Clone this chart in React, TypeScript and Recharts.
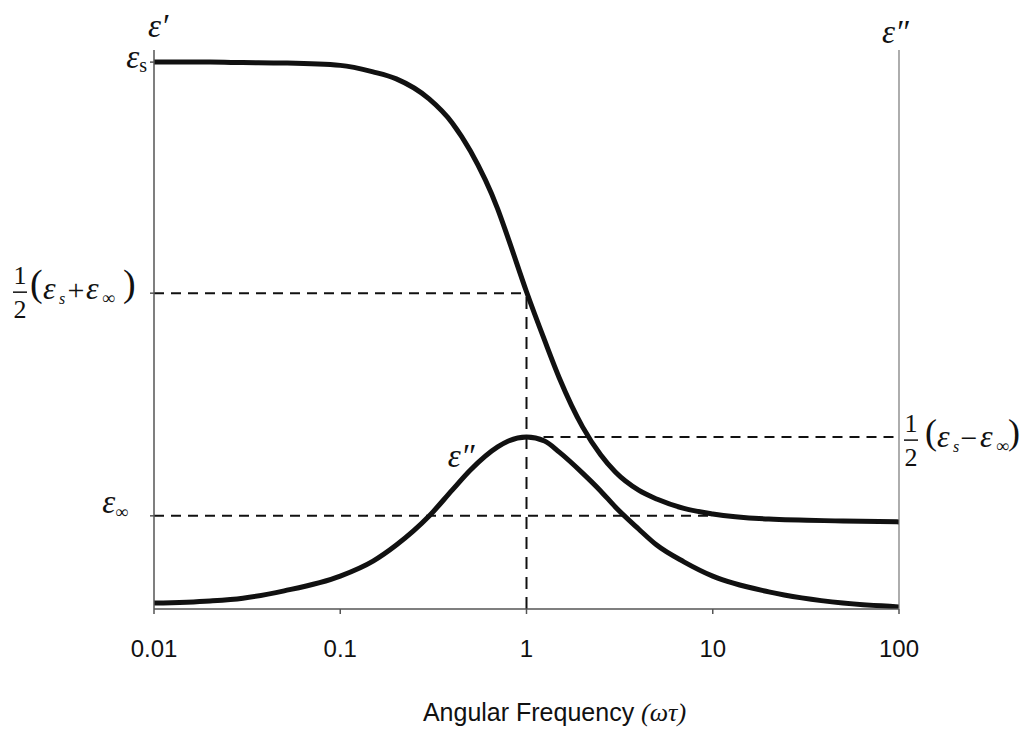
import React from 'react';
import { LineChart, Line, XAxis, YAxis, ReferenceLine } from 'recharts';

// angular frequency (ωτ) sample points
const omega = [0.01, 0.02, 0.03, 0.05, 0.1, 0.15, 0.2, 0.3, 0.4, 0.5, 0.7, 0.8, 1, 1.25, 1.5, 2, 2.5, 3, 4, 5, 7, 10, 20, 50, 100];
// ε' (left axis units)
const epsPrime = [11.74, 11.74, 11.73, 11.72, 11.67, 11.53, 11.38, 10.95, 10.43, 9.83, 8.59, 7.94, 6.81, 5.77, 4.96, 3.91, 3.31, 2.94, 2.55, 2.36, 2.16, 2.04, 1.93, 1.89, 1.87];
// ε'' (right axis units)
const epsDoublePrime = [0.17, 0.23, 0.31, 0.52, 0.94, 1.37, 1.83, 2.66, 3.41, 3.98, 4.64, 4.81, 4.92, 4.81, 4.49, 3.89, 3.38, 2.92, 2.29, 1.83, 1.35, 0.94, 0.49, 0.17, 0.06];

const xTicks = [0.01, 0.1, 1, 10, 100];
const xTickLabels = ['0.01', '0.1', '1', '10', '100'];

const EPS_S = 11.74;
const EPS_HALF = 6.78;
const EPS_INF = 2.0;
const PEAK = 4.92;
const PEAK_W = 1;

const data = omega.map((w, i) => ({ w, ep: epsPrime[i], epp: epsDoublePrime[i] }));

const SERIF = "'Liberation Serif', 'Times New Roman', serif";
const SANS = "'Liberation Sans', Arial, sans-serif";
const INK = '#111';

type Layout = { lp: number; e1: number; s: number; op: number; e2: number; inf: number; rp: number; pf: number };
const LEFT_LAYOUT: Layout = { lp: 10, e1: 23, s: 39, op: 56, e2: 66, inf: 82, rp: 103, pf: 38 };
const RIGHT_LAYOUT: Layout = { lp: 14, e1: 26, s: 42, op: 58, e2: 69, inf: 85, rp: 97, pf: 36 };

function HalfExpr({ fc, cy, op, L }: { fc: number; cy: number; op: string; L: Layout }) {
  return (
    <g fill={INK} fontFamily={SERIF}>
      <text x={fc} y={cy - 8} fontSize={26} textAnchor="middle">1</text>
      <line x1={fc - 7} x2={fc + 7} y1={cy} y2={cy} stroke={INK} strokeWidth={1.5} />
      <text x={fc} y={cy + 26} fontSize={26} textAnchor="middle">2</text>
      <text x={fc + L.lp} y={cy + 4} fontSize={L.pf}>(</text>
      <text x={fc + L.e1} y={cy + 7} fontSize={32} fontStyle="italic">ε</text>
      <text x={fc + L.s} y={cy + 12} fontSize={16} fontStyle="italic">s</text>
      <text x={fc + L.op} y={cy + 8} fontSize={30} textAnchor="middle">{op}</text>
      <text x={fc + L.e2} y={cy + 7} fontSize={32} fontStyle="italic">ε</text>
      <text x={fc + L.inf} y={cy + 12} fontSize={18}>∞</text>
      <text x={fc + L.rp} y={cy + 4} fontSize={L.pf}>)</text>
    </g>
  );
}

const LeftTick = (props: any) => {
  const { x, y, payload } = props;
  const ax = x + 4;
  const v = payload.value;
  if (Math.abs(v - EPS_S) < 1e-6) {
    return (
      <text x={ax - 7} y={y + 6} textAnchor="end" fill={INK} fontFamily={SERIF}>
        <tspan fontSize={33} fontStyle="italic">ε</tspan>
        <tspan fontSize={20} dy={4}>s</tspan>
      </text>
    );
  }
  if (Math.abs(v - EPS_HALF) < 1e-6) {
    return <HalfExpr fc={ax - 134} cy={y - 1} op="+" L={LEFT_LAYOUT} />;
  }
  if (Math.abs(v - EPS_INF) < 1e-6) {
    return (
      <text x={ax - 26} y={y - 3} textAnchor="end" fill={INK} fontFamily={SERIF}>
        <tspan fontSize={33} fontStyle="italic">ε</tspan>
        <tspan fontSize={18} dy={5}>∞</tspan>
      </text>
    );
  }
  return null;
};

const RightTick = (props: any) => {
  const { x, y } = props;
  return <HalfExpr fc={x + 12} cy={y + 3} op="−" L={RIGHT_LAYOUT} />;
};

const BottomTick = (props: any) => {
  const { x, y, payload } = props;
  const i = xTicks.indexOf(payload.value);
  return (
    <text x={x} y={y + 43} textAnchor="middle" fill={INK} fontFamily={SANS} fontSize={24}>
      {i >= 0 ? xTickLabels[i] : ''}
    </text>
  );
};

const XTitle = (props: any) => {
  const vb = props.viewBox || { x: 154, y: 609, width: 745 };
  const cx = vb.x + vb.width / 2 + 28;
  return (
    <text x={cx} y={vb.y + 112} textAnchor="middle" fill={INK} fontFamily={SANS} fontSize={25}>
      <tspan>Angular Frequency </tspan>
      <tspan fontFamily={SERIF} fontStyle="italic" fontSize={26}>(ωτ)</tspan>
    </text>
  );
};

const LeftTitle = (props: any) => {
  const vb = props.viewBox || { x: 0, y: 50, width: 154 };
  return (
    <text x={vb.x + vb.width - 6} y={vb.y - 13} fill={INK} fontFamily={SERIF} fontStyle="italic" fontSize={33}>
      ε′
    </text>
  );
};

const RightTitle = (props: any) => {
  const vb = props.viewBox || { x: 899, y: 50, width: 122 };
  return (
    <text x={vb.x - 17} y={vb.y - 7} fill={INK} fontFamily={SERIF} fontStyle="italic" fontSize={33}>
      ε″
    </text>
  );
};

const CurveLabel = (props: any) => {
  const { x, y, index } = props;
  if (omega[index] !== 0.5) return null;
  return (
    <text x={x + 4} y={y - 3} textAnchor="end" fill={INK} fontFamily={SERIF} fontStyle="italic" fontSize={33}>
      ε″
    </text>
  );
};

export default function App() {
  return (
    <div style={{ position: 'absolute', left: 0, top: 0, width: 1021, height: 731, background: '#fff' }}>
      <LineChart width={1021} height={731} data={data} margin={{ top: 50, right: 0, bottom: 0, left: 0 }}>
        <XAxis
          dataKey="w"
          type="number"
          scale="log"
          domain={[0.01, 100]}
          ticks={xTicks}
          height={122}
          tickSize={5}
          tickMargin={0}
          tick={BottomTick}
          tickLine={{ stroke: '#555', strokeWidth: 1.5 }}
          axisLine={{ stroke: '#555', strokeWidth: 1.5 }}
          allowDataOverflow
          label={<XTitle />}
        />
        <YAxis
          yAxisId="l"
          orientation="left"
          domain={[0, 12]}
          ticks={[EPS_INF, EPS_HALF, EPS_S]}
          width={154}
          tickSize={4}
          tickMargin={0}
          tick={LeftTick}
          tickLine={{ stroke: '#555', strokeWidth: 1.5 }}
          axisLine={{ stroke: '#555', strokeWidth: 1.5 }}
          allowDataOverflow
          label={<LeftTitle />}
        />
        <YAxis
          yAxisId="r"
          orientation="right"
          domain={[0, 16]}
          ticks={[PEAK]}
          width={122}
          tickSize={0}
          tickMargin={0}
          tickLine={false}
          tick={RightTick}
          axisLine={{ stroke: '#777', strokeWidth: 1.2 }}
          allowDataOverflow
          label={<RightTitle />}
        />
        <ReferenceLine
          yAxisId="l"
          segment={[{ x: 0.01, y: EPS_HALF }, { x: PEAK_W, y: EPS_HALF }]}
          stroke={INK}
          strokeWidth={2}
          strokeDasharray="10 7"
        />
        <ReferenceLine
          yAxisId="l"
          segment={[{ x: PEAK_W, y: 0 }, { x: PEAK_W, y: EPS_HALF }]}
          stroke={INK}
          strokeWidth={2}
          strokeDasharray="12 8"
        />
        <ReferenceLine
          yAxisId="l"
          segment={[{ x: 0.01, y: EPS_INF }, { x: 10, y: EPS_INF }]}
          stroke={INK}
          strokeWidth={2}
          strokeDasharray="10 7"
        />
        <ReferenceLine
          yAxisId="r"
          segment={[{ x: PEAK_W, y: PEAK }, { x: 100, y: PEAK }]}
          stroke={INK}
          strokeWidth={2}
          strokeDasharray="10 7"
        />
        <Line
          yAxisId="l"
          dataKey="ep"
          type="monotone"
          stroke={INK}
          strokeWidth={5}
          dot={false}
          activeDot={false}
          isAnimationActive={false}
        />
        <Line
          yAxisId="r"
          dataKey="epp"
          type="monotone"
          stroke={INK}
          strokeWidth={5}
          dot={false}
          activeDot={false}
          isAnimationActive={false}
          label={CurveLabel}
        />
      </LineChart>
    </div>
  );
}
